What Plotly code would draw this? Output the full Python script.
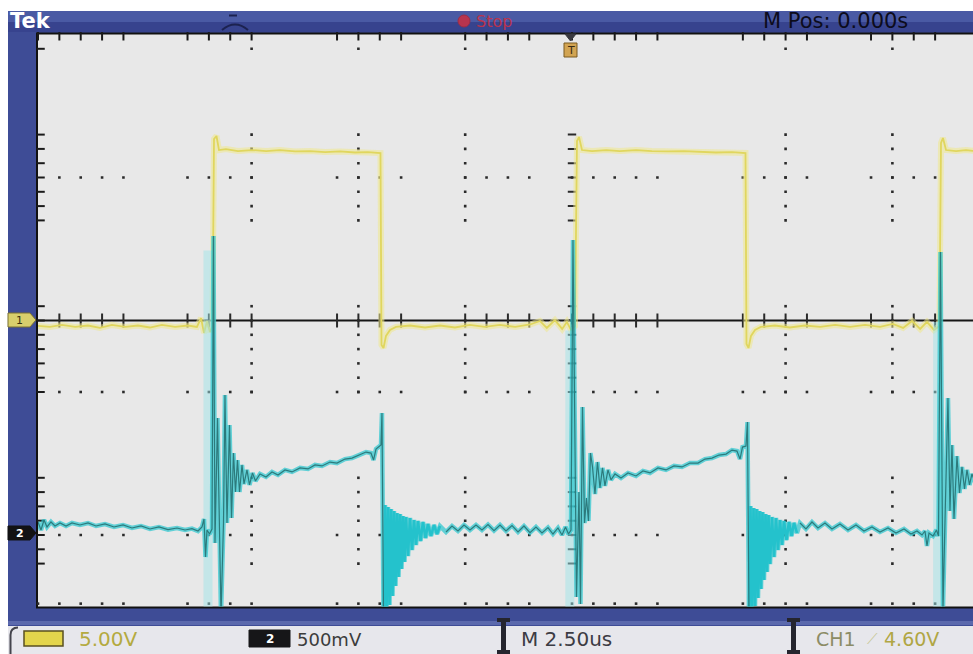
import plotly.graph_objects as go

W, H = 973, 654

# ---- acquisition settings -------------------------------------------------
CH1_VDIV = 5.0         # V/div, channel 1
CH2_VDIV = 0.5         # V/div, channel 2
CH1_OFFSET_DIV = 0.0   # ground marker of channel 1 (divisions from centre)
CH2_OFFSET_DIV = -3.0  # ground marker of channel 2
T_DIV = 2.5            # us/div
T_LEFT = -12.5         # left edge of the screen (us)
T_RIGHT = 9.387        # right edge of the visible screen (us)

header_logo = "Tek"
header_state = "Stop"
header_pos = "M Pos: 0.000s"
status_ch1 = "5.00V"
status_ch2 = "500mV"
status_time = "M 2.50us"
status_trig_src = "CH1"
status_trig_slope = "⟋"
status_trig_lvl = "4.60V"

# ---- CH1 : gate drive (time us, volts) -------------------------------------
ch1_samples = [
    (-12.50, -0.38), (-12.22, -0.45), (-11.94, -0.31), (-11.63, -0.45), (-11.33, -0.35),
    (-11.05, -0.52), (-10.77, -0.31), (-10.46, -0.45), (-10.16, -0.35), (-9.88, -0.49),
    (-9.60, -0.31), (-9.29, -0.45), (-8.99, -0.35), (-8.78, -0.45), (-8.684, 0.17),
    (-8.614, -0.87), (-8.544, -0.03), (-8.474, -0.80), (-8.415, -0.38), (-8.380, 12.69),
    (-8.322, 12.90), (-8.263, 11.92), (-8.10, 11.99), (-7.82, 11.85), (-7.49, 11.92),
    (-7.16, 11.85), (-6.84, 11.92), (-6.48, 11.82), (-6.13, 11.85), (-5.78, 11.78),
    (-5.43, 11.82), (-5.08, 11.75), (-4.78, 11.78), (-4.541, 11.71), (-4.483, 11.71),
    (-4.459, -1.71), (-4.412, -1.92), (-4.354, -1.08), (-4.260, -0.66), (-4.12, -0.45),
    (-3.79, -0.35), (-3.44, -0.49), (-3.09, -0.35), (-2.74, -0.49), (-2.39, -0.31),
    (-2.04, -0.45), (-1.69, -0.31), (-1.33, -0.45), (-0.98, -0.28), (-0.75, -0.03),
    (-0.59, -0.52), (-0.40, 0.03), (-0.23, -0.59), (-0.12, -0.10), (-0.023, -0.66),
    (0.070, -0.38), (0.117, 12.55), (0.164, 12.83), (0.234, 11.92), (0.47, 11.85),
    (0.80, 11.92), (1.12, 11.85), (1.50, 11.92), (1.87, 11.85), (2.25, 11.82),
    (2.62, 11.85), (3.00, 11.78), (3.37, 11.75), (3.75, 11.78), (4.003, 11.71),
    (4.061, 11.71), (4.085, -1.64), (4.132, -1.92), (4.190, -1.08), (4.284, -0.66),
    (4.42, -0.45), (4.75, -0.35), (5.10, -0.49), (5.45, -0.35), (5.81, -0.45),
    (6.16, -0.31), (6.51, -0.45), (6.86, -0.31), (7.21, -0.45), (7.51, -0.24),
    (7.75, -0.52), (7.96, -0.03), (8.15, -0.59), (8.31, -0.10), (8.474, -0.66),
    (8.602, -0.38), (8.638, 12.41), (8.684, 12.76), (8.755, 11.92), (8.99, 11.85),
    (9.22, 11.92), (9.43, 11.85),
]

# ---- CH2 : current sense (time us, volts) ----------------------------------
ch2_samples = [
    # off interval
    (-12.500, 0.091), (-12.430, 0.035), (-12.359, 0.105), (-12.289, 0.056), (-12.196, 0.091),
    (-12.102, 0.063), (-11.985, 0.084), (-11.844, 0.063), (-11.704, 0.084), (-11.517, 0.070),
    (-11.330, 0.084), (-11.142, 0.063), (-10.932, 0.077), (-10.721, 0.056), (-10.510, 0.070),
    (-10.300, 0.049), (-10.089, 0.063), (-9.878, 0.042), (-9.668, 0.056), (-9.457, 0.038),
    (-9.246, 0.049), (-9.059, 0.035), (-8.895, 0.045), (-8.755, 0.028), (-8.661, 0.056),
    (-8.614, 0.112), (-8.579, -0.154), (-8.544, 0.035), (-8.485, 0.007), (-8.427, 0.042),
    # turn-on
    (-8.392, 2.091), (-8.357, -0.056), (-8.298, 0.818), (-8.251, -0.126), (-8.216, -0.559),
    (-8.158, 0.084), (-8.123, 0.979), (-8.076, 0.084), (-8.017, 0.769), (-7.970, 0.119),
    (-7.924, 0.573), (-7.877, 0.301), (-7.830, 0.524), (-7.783, 0.301), (-7.725, 0.490),
    (-7.678, 0.357), (-7.608, 0.455), (-7.549, 0.350), (-7.479, 0.434), (-7.409, 0.378),
    # on-time ramp
    (-7.303, 0.427), (-7.163, 0.406), (-7.022, 0.441), (-6.882, 0.420), (-6.718, 0.455),
    (-6.554, 0.441), (-6.367, 0.469), (-6.180, 0.462), (-6.016, 0.490), (-5.852, 0.483),
    (-5.665, 0.510), (-5.501, 0.503), (-5.314, 0.531), (-5.150, 0.538), (-4.963, 0.559),
    (-4.822, 0.580), (-4.705, 0.573), (-4.646, 0.524), (-4.588, 0.601), (-4.506, 0.622),
    # turn-off ringing
    (-4.471, 0.629), (-4.448, 0.853), (-4.412, -0.559), (-4.377, 0.210), (-4.342, -0.538),
    (-4.307, 0.196), (-4.272, -0.490), (-4.237, 0.182), (-4.202, -0.427), (-4.167, 0.168),
    (-4.132, -0.357), (-4.096, 0.154), (-4.061, -0.294), (-4.026, 0.147), (-3.991, -0.238),
    (-3.956, 0.133), (-3.921, -0.189), (-3.886, 0.126), (-3.839, -0.147), (-3.792, 0.119),
    (-3.745, -0.105), (-3.698, 0.105), (-3.652, -0.070), (-3.605, 0.098), (-3.546, -0.042),
    (-3.488, 0.091), (-3.429, -0.021), (-3.371, 0.077), (-3.301, -0.007), (-3.230, 0.070),
    (-3.160, 0.007), (-3.090, 0.063),
    # off interval
    (-2.949, 0.021), (-2.809, 0.063), (-2.669, 0.028), (-2.528, 0.070), (-2.388, 0.035),
    (-2.247, 0.070), (-2.107, 0.035), (-1.966, 0.073), (-1.826, 0.031), (-1.685, 0.070),
    (-1.545, 0.028), (-1.404, 0.066), (-1.264, 0.021), (-1.124, 0.063), (-0.983, 0.017),
    (-0.843, 0.056), (-0.702, 0.014), (-0.562, 0.052), (-0.445, 0.007), (-0.328, 0.049),
    (-0.234, 0.000), (-0.152, 0.056), (-0.082, 0.007), (-0.023, 0.035),
    # turn-on
    (0.023, 2.063), (0.105, -0.434), (0.164, 0.301), (0.199, -0.483), (0.246, 0.895),
    (0.293, 0.084), (0.339, 0.259), (0.386, 0.098), (0.433, 0.573), (0.480, 0.476),
    (0.538, 0.287), (0.597, 0.510), (0.655, 0.329), (0.714, 0.469), (0.772, 0.343),
    (0.843, 0.455), (0.913, 0.385),
    # on-time ramp
    (1.007, 0.427), (1.147, 0.399), (1.311, 0.434), (1.498, 0.413), (1.662, 0.448),
    (1.826, 0.434), (2.013, 0.469), (2.200, 0.455), (2.388, 0.483), (2.575, 0.476),
    (2.762, 0.503), (2.949, 0.503), (3.113, 0.531), (3.277, 0.538), (3.441, 0.559),
    (3.605, 0.566), (3.745, 0.594), (3.862, 0.587), (3.933, 0.531), (3.991, 0.615),
    (4.073, 0.622),
    # turn-off ringing
    (4.108, 0.790), (4.143, -0.559), (4.178, 0.203), (4.213, -0.538), (4.249, 0.189),
    (4.284, -0.497), (4.319, 0.182), (4.354, -0.441), (4.389, 0.168), (4.424, -0.378),
    (4.459, 0.161), (4.494, -0.315), (4.530, 0.147), (4.565, -0.259), (4.600, 0.140),
    (4.635, -0.203), (4.682, 0.126), (4.729, -0.154), (4.775, 0.119), (4.822, -0.105),
    (4.869, 0.105), (4.916, -0.070), (4.963, 0.098), (5.021, -0.035), (5.080, 0.091),
    (5.138, -0.007), (5.197, 0.084), (5.267, 0.014), (5.337, 0.084),
    # off interval
    (5.477, 0.042), (5.618, 0.091), (5.758, 0.049), (5.922, 0.084), (6.086, 0.042),
    (6.273, 0.077), (6.461, 0.035), (6.648, 0.070), (6.835, 0.028), (7.022, 0.056),
    (7.210, 0.021), (7.397, 0.049), (7.584, 0.014), (7.772, 0.042), (7.935, 0.007),
    (8.076, 0.028), (8.193, 0.000), (8.263, 0.028), (8.310, -0.077), (8.357, 0.014),
    (8.450, -0.007), (8.532, 0.035), (8.579, -0.007),
    # turn-on
    (8.626, 1.979), (8.684, -0.524), (8.743, 0.245), (8.801, 0.958), (8.848, 0.168),
    (8.895, 0.629), (8.942, 0.112), (9.012, 0.552), (9.071, 0.294), (9.129, 0.476),
    (9.188, 0.322), (9.246, 0.455), (9.305, 0.350), (9.363, 0.427), (9.433, 0.371),
]

# dim persistence of the fast CH2 edges (time us, top V, bottom V)
ch2_fast_edges = [(-8.52, 1.99, -0.55), (-0.05, 1.43, -0.55), (8.56, 1.49, -0.55)]
# turn-off ringing bursts, shown intensity-graded (start us, end us)
ch2_bright_spans = [(-4.412, -3.05), (4.143, 5.30)]

# graticule minor marks that survive on this display (in 1/5 division steps)
x_minor_shown = [-25, -24, -23, -22, -21, -18, -17, -16, -15, -11, -10, -9, -8,
                 -5, -4, -3, -2, 0, 1, 2, 3, 4, 8, 9, 10, 11, 14, 15, 16, 17]
y_minor_shown = [19, 13, 12, 11, 10, 9, 8, 7, 1, 0, -1, -2, -3, -4, -5,
                 -11, -12, -13, -14, -15, -16, -17]

# ---- screen geometry (pixels) ----------------------------------------------
X0, X1 = 38, 973          # graticule left / visible right
Y0, Y1 = 34.5, 606.5      # graticule top / bottom
FONT = "DejaVu Sans"


def fx(x):
    return x / W


def fy(y):
    return 1 - y / H


def rect(x0, y0, x1, y1, fill, line=None, lw=0, layer="below"):
    return dict(type="rect", xref="paper", yref="paper",
                x0=fx(x0), x1=fx(x1), y0=fy(y1), y1=fy(y0),
                fillcolor=fill, line=dict(color=line or fill, width=lw), layer=layer)


def seg(x0, y0, x1, y1, color, lw, layer="below"):
    return dict(type="line", xref="paper", yref="paper",
                x0=fx(x0), x1=fx(x1), y0=fy(y0), y1=fy(y1),
                line=dict(color=color, width=lw), layer=layer)


def path(points, fill, line, lw=1, layer="above"):
    d = "M " + " L ".join(f"{fx(x):.5f},{fy(y):.5f}" for x, y in points) + " Z"
    return dict(type="path", xref="paper", yref="paper", path=d,
                fillcolor=fill, line=dict(color=line, width=lw), layer=layer)


def label(x, y, text, color, size, bold=False, anchor="left", family=FONT):
    t = f"<b>{text}</b>" if bold else text
    return dict(x=fx(x), y=fy(y), xref="paper", yref="paper", text=t,
                showarrow=False, xanchor=anchor, yanchor="middle",
                font=dict(family=family, size=size, color=color))


fig = go.Figure()

# ---- graticule --------------------------------------------------------------
us_per_minor = T_DIV / 5
div_per_minor = 1 / 5
major_cols = [m for m in x_minor_shown if m % 5 == 0 and m not in (0, -25)]
major_rows = [m for m in y_minor_shown if m % 5 == 0 and m != 0]

dot_x, dot_y = [], []
for c in major_cols:
    for r in y_minor_shown:
        dot_x.append(c * us_per_minor)
        dot_y.append(r * div_per_minor)
for r in major_rows:
    for c in x_minor_shown:
        if c != -25:
            dot_x.append(c * us_per_minor)
            dot_y.append(r * div_per_minor)
fig.add_trace(go.Scatter(x=dot_x, y=dot_y, mode="markers", hoverinfo="skip",
                         marker=dict(symbol="square", size=2.6, color="#2a2a2a",
                                     line=dict(width=0))))

# centre cross ticks
cx = [c * us_per_minor for c in x_minor_shown if c != -25]
fig.add_trace(go.Scatter(
    x=cx, y=[0] * len(cx), mode="markers", hoverinfo="skip",
    marker=dict(symbol="line-ns", size=10, line=dict(width=2, color="#2a2a2a"))))
fig.add_trace(go.Scatter(
    x=[0] * len(y_minor_shown), y=[r * div_per_minor for r in y_minor_shown],
    mode="markers", hoverinfo="skip",
    marker=dict(symbol="line-ew", size=6, line=dict(width=2, color="#2a2a2a"))))

# edge ticks
fig.add_trace(go.Scatter(
    x=[c * us_per_minor for c in x_minor_shown], y=[3.975] * len(x_minor_shown),
    mode="markers", hoverinfo="skip", cliponaxis=False,
    marker=dict(symbol="line-ns", size=6, line=dict(width=2, color="#1a1a1a"))))
fig.add_trace(go.Scatter(
    x=[c * us_per_minor for c in x_minor_shown], y=[-3.96] * len(x_minor_shown),
    mode="markers", hoverinfo="skip", cliponaxis=False,
    marker=dict(symbol="square", size=2.6, color="#2a2a2a", line=dict(width=0))))
fig.add_trace(go.Scatter(
    x=[T_LEFT + 0.06] * len(y_minor_shown), y=[r * div_per_minor for r in y_minor_shown],
    mode="markers", hoverinfo="skip", cliponaxis=False,
    marker=dict(symbol="line-ew", size=6, line=dict(width=2, color="#1a1a1a"))))

# ---- waveforms ----------------------------------------------------------------
ch1_t = [t for t, _ in ch1_samples]
ch1_div = [v / CH1_VDIV + CH1_OFFSET_DIV for _, v in ch1_samples]
ch2_t = [t for t, _ in ch2_samples]
ch2_div = [v / CH2_VDIV + CH2_OFFSET_DIV for _, v in ch2_samples]


def in_bright(t):
    return any(a <= t <= b for a, b in ch2_bright_spans)


def strictly_bright(t):
    return any(a < t < b for a, b in ch2_bright_spans)


core_y = [None if strictly_bright(t) else y for t, y in zip(ch2_t, ch2_div)]
bright_y = [y if in_bright(t) else None for t, y in zip(ch2_t, ch2_div)]

glow_t, glow_div = [], []
for t, top, bot in ch2_fast_edges:
    glow_t += [t, t, None]
    glow_div += [top / CH2_VDIV + CH2_OFFSET_DIV, bot / CH2_VDIV + CH2_OFFSET_DIV, None]

fig.add_trace(go.Scatter(x=ch1_t, y=ch1_div, mode="lines", hoverinfo="skip",
                         line=dict(color="rgba(238,232,140,0.55)", width=6)))
fig.add_trace(go.Scatter(x=ch1_t, y=ch1_div, mode="lines", hoverinfo="skip",
                         line=dict(color="#e0d65e", width=1.8)))
fig.add_trace(go.Scatter(x=glow_t, y=glow_div, mode="lines", hoverinfo="skip",
                         line=dict(color="rgba(160,228,232,0.5)", width=9)))
fig.add_trace(go.Scatter(x=ch2_t, y=ch2_div, mode="lines", hoverinfo="skip",
                         line=dict(color="rgba(40,198,206,0.7)", width=4.5)))
fig.add_trace(go.Scatter(x=ch2_t, y=bright_y, mode="lines", hoverinfo="skip",
                         line=dict(color="#24c2cc", width=2.6)))
fig.add_trace(go.Scatter(x=ch2_t, y=core_y, mode="lines", hoverinfo="skip",
                         line=dict(color="#2c7a7c", width=1.2)))

# ---- bezel, header and status bar ---------------------------------------------
shapes = [
    rect(8, 11, W, 626, "#3e4c96"),
    rect(8, 11, W, 22, "#4a5aa4"),
    rect(8, 22, W, 32, "#37438e"),
    rect(37, 33, W, 607.5, "#e8e8e8"),
    seg(36, 33.5, W, 33.5, "#111111", 2),
    seg(37, 33, 37, 607.5, "#111111", 2),
    seg(36, 607.5, W, 607.5, "#111111", 2),
    seg(X0, 320.5, W, 320.5, "#161616", 2),
    rect(8, 621, W, 625, "#5b69ad"),
    rect(8, 626, W, H, "#e7e7ec"),
    dict(type="path", xref="paper", yref="paper", layer="below",
         path=f"M {fx(18)},{fy(627.5)} Q {fx(10.5)},{fy(627.5)} {fx(10.5)},{fy(635)} L {fx(10.5)},{fy(H)}",
         line=dict(color="#44444c", width=2)),
    # channel badges
    dict(type="rect", xref="paper", yref="paper", layer="above",
         x0=fx(24), x1=fx(63), y0=fy(646), y1=fy(631),
         fillcolor="#e3d54c", line=dict(color="#5a5020", width=1.5)),
    dict(type="rect", xref="paper", yref="paper", layer="above",
         x0=fx(249), x1=fx(290), y0=fy(647), y1=fy(630),
         fillcolor="#161618", line=dict(color="#161618", width=1)),
    # status dividers
    rect(501, 618, 506, H, "#25252e", layer="above"),
    rect(497, 618, 510, 622, "#25252e", layer="above"),
    rect(497, 650, 510, H, "#25252e", layer="above"),
    rect(791, 618, 796, H, "#25252e", layer="above"),
    rect(787, 618, 800, 622, "#25252e", layer="above"),
    rect(787, 650, 800, H, "#25252e", layer="above"),
    # acquisition icon in the header
    seg(229, 15.5, 237, 15.5, "#1c2250", 2, layer="above"),
    dict(type="path", xref="paper", yref="paper", layer="above",
         path=f"M {fx(222)},{fy(30)} Q {fx(235)},{fy(19)} {fx(248)},{fy(30)}",
         line=dict(color="#1c2250", width=2)),
    # run/stop lamp
    dict(type="circle", xref="paper", yref="paper", layer="above",
         x0=fx(458), x1=fx(470), y0=fy(27), y1=fy(15),
         fillcolor="#b8344e", line=dict(color="#a02c46", width=1)),
    # trigger position marker
    path([(565, 34), (576, 34), (570.5, 41)], "#3a3a40", "#3a3a40", 1),
    dict(type="rect", xref="paper", yref="paper", layer="above",
         x0=fx(564), x1=fx(577), y0=fy(57), y1=fy(43),
         fillcolor="#d2a452", line=dict(color="#7a5a20", width=1)),
    # channel ground markers
    path([(8, 313), (30, 313), (36, 320), (30, 327), (8, 327)], "#d8cf6c", "#7a7030", 1),
    path([(8, 526), (30, 526), (36, 533), (30, 540), (8, 540)], "#121214", "#121214", 1),
]

annotations = [
    label(8, 21, header_logo, "#ffffff", 21, bold=True),
    label(474, 21, header_state, "#b8344e", 16),
    label(761, 21, header_pos, "#0c0c1c", 21),
    label(570.5, 50, "T", "#3a2a10", 11, anchor="center"),
    label(19, 320, "1", "#3a3410", 11, anchor="center"),
    label(20, 533, "2", "#ffffff", 11, bold=True, anchor="center"),
    label(269.5, 638.5, "2", "#ffffff", 12, bold=True, anchor="center"),
    label(77, 639, status_ch1, "#b4aa40", 20),
    label(295, 639, status_ch2, "#3c3c3c", 18),
    label(519, 639, status_time, "#3c3c44", 20),
    label(814, 639, status_trig_src, "#8c8c66", 19),
    label(865, 639, status_trig_slope, "#c8c898", 15),
    label(882, 639, status_trig_lvl, "#b0a644", 19),
]

fig.update_layout(
    width=W, height=H,
    margin=dict(l=0, r=0, t=0, b=0),
    paper_bgcolor="#ffffff",
    plot_bgcolor="rgba(0,0,0,0)",
    showlegend=False,
    shapes=shapes,
    annotations=annotations,
    xaxis=dict(range=[T_LEFT, T_RIGHT], domain=[fx(X0), fx(X1)], visible=False,
               fixedrange=True),
    yaxis=dict(range=[-4, 4], domain=[fy(Y1), fy(Y0)], visible=False, fixedrange=True),
)

fig.write_html("out.html")
